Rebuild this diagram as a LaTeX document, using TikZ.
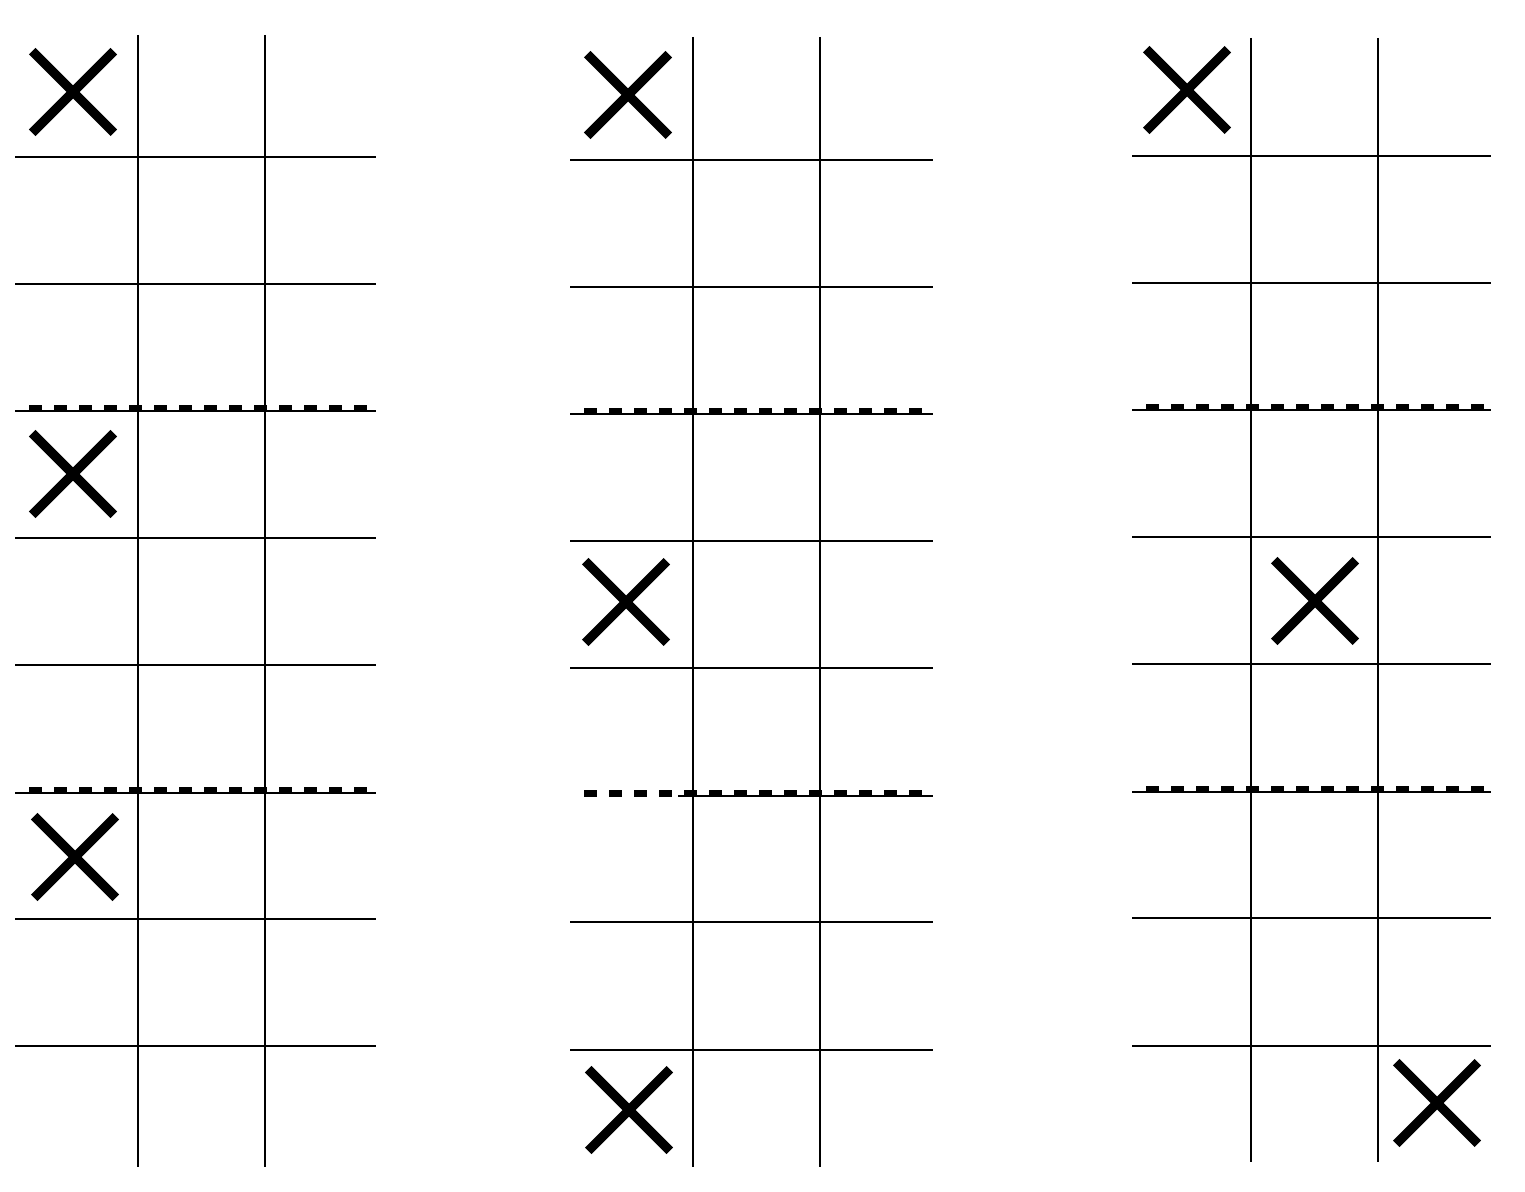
\documentclass[tikz,border=0pt]{standalone}
\begin{document}
\begin{tikzpicture}[x=0.5pt,y=-0.5pt,
    gridline/.style={line width=1pt},
    sepline/.style={line width=3.2pt,dash pattern=on 6.5pt off 6pt},
    cross/.style={line width=4.6pt}]
  \useasboundingbox (0,0) rectangle (1525,1192);
  % three boards: left, right, verticals, top, bottom, rows
  \foreach \l/\r/\va/\vb/\t/\b/\ha/\hb/\hc/\hd/\he/\hf/\hg/\hh/\s in {
      15/376/138/265/35/1167/157/284/411/538/665/793/919/1046/15,
      570/933/693/820/37/1167/160/287/414/541/668/796/922/1050/678,
      1132/1491/1251/1378/38/1162/156/283/410/537/664/792/918/1046/1132}{
      \draw[gridline] (\va,\t) -- (\va,\b);
      \draw[gridline] (\vb,\t) -- (\vb,\b);
      \foreach \h in {\ha,\hb,\hc,\hd,\he,\hg,\hh}{
          \draw[gridline] (\l,\h) -- (\r,\h);
        }
      \draw[gridline] (\s,\hf) -- (\r,\hf);
      \draw[sepline] (\l+14,\hc-2.5) -- (\r,\hc-2.5);
      \draw[sepline] (\l+14,\hf-2.5) -- (\r,\hf-2.5);
    }
  % the marks
  \foreach \x/\y in {73/92,73/474,75/857,628/95,626/602,629/1110,
      1187/90,1315/601,1437/1103}{
      \draw[cross] (\x-40.8,\y-40.8) -- (\x+40.8,\y+40.8)
        (\x-40.8,\y+40.8) -- (\x+40.8,\y-40.8);
    }
\end{tikzpicture}
\end{document}
